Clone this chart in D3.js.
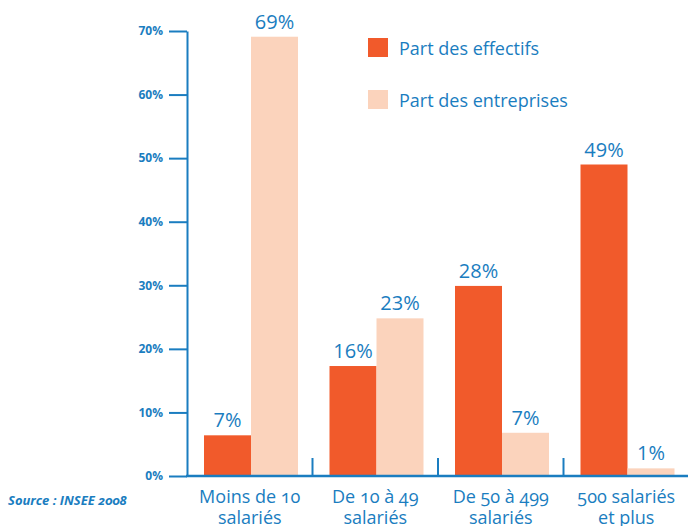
<!DOCTYPE html>
<html>
<head>
<meta charset="utf-8">
<script src="https://cdn.jsdelivr.net/npm/d3@7"></script>
<style>
  body { margin: 0; background: #fff; }
  svg { display: block; font-family: "Open Sans", "Noto Sans", sans-serif; }
  .onum { font-variant-numeric: oldstyle-nums; }
</style>
</head>
<body>
<svg id="chart" width="688" height="526"></svg>
<script>
// categories (two lines each), series and values
var categories = [["Moins de 10", "salariés"], ["De 10 à 49", "salariés"], ["De 50 à 499", "salariés"], ["500 salariés", "et plus"]];
var series = ["Part des effectifs", "Part des entreprises"];
var effectifs = [6.4, 17.3, 29.9, 49.0];
var entreprises = [69.1, 24.8, 6.8, 1.2];
var effectifsLabels = ["7%", "16%", "28%", "49%"];
var entreprisesLabels = ["69%", "23%", "7%", "1%"];
var yTicks = [0, 10, 20, 30, 40, 50, 60, 70];
var colors = ["#f15a2b", "#fbd3bc"];
var blue = "#1a7dc0";

var svg = d3.select("#chart");

var x0 = d3.scaleBand()
    .domain(d3.range(categories.length))
    .range([187, 689])
    .padding(0);

var x1 = d3.scaleBand()
    .domain(series)
    .range([17, 111]);

var y = d3.scaleLinear()
    .domain([0, 70])
    .range([476, 31]);

// rows built from the arrays
var rows = categories.map(function(c, i) {
    return [
        {s: series[0], v: effectifs[i], label: effectifsLabels[i], color: colors[0]},
        {s: series[1], v: entreprises[i], label: entreprisesLabels[i], color: colors[1]}
    ];
});

var groups = svg.selectAll("g.cat")
    .data(rows)
    .enter().append("g")
    .attr("class", "cat")
    .attr("transform", (d, i) => "translate(" + x0(i) + ",0)");

groups.selectAll("rect")
    .data(d => d)
    .enter().append("rect")
    .attr("x", d => x1(d.s))
    .attr("width", x1.bandwidth())
    .attr("y", d => y(d.v))
    .attr("height", d => y(0) - y(d.v))
    .attr("fill", d => d.color);

groups.selectAll("text.val")
    .data(d => d)
    .enter().append("text")
    .attr("class", "val")
    .attr("x", d => x1(d.s) + x1.bandwidth() / 2)
    .attr("y", d => y(d.v) - 8)
    .attr("text-anchor", "middle")
    .attr("font-size", 20)
    .attr("fill", blue)
    .text(d => d.label);

// y axis
var yAxis = d3.axisLeft(y)
    .tickValues(yTicks)
    .tickSize(18)
    .tickSizeOuter(0)
    .tickPadding(6)
    .tickFormat(d => d + "%");

var gy = svg.append("g")
    .attr("transform", "translate(187,0)")
    .call(yAxis);
gy.select(".domain").attr("stroke", blue).attr("stroke-width", 2);
gy.selectAll(".tick line").attr("stroke", blue).attr("stroke-width", 2);
gy.selectAll(".tick text")
    .attr("fill", blue)
    .attr("font-size", 12)
    .attr("font-weight", "bold")
    .attr("font-family", "'Open Sans', sans-serif");

// x axis line and separators
svg.append("line")
    .attr("x1", 186).attr("x2", 688)
    .attr("y1", y(0)).attr("y2", y(0))
    .attr("stroke", blue).attr("stroke-width", 2.5);

svg.selectAll("line.sep")
    .data(d3.range(1, categories.length))
    .enter().append("line")
    .attr("class", "sep")
    .attr("x1", d => x0(d)).attr("x2", d => x0(d))
    .attr("y1", y(0) - 18).attr("y2", y(0))
    .attr("stroke", blue).attr("stroke-width", 2);

// category labels
var catText = svg.selectAll("text.catlab")
    .data(categories)
    .enter().append("text")
    .attr("class", "catlab onum")
    .attr("text-anchor", "middle")
    .attr("font-size", 18)
    .attr("fill", blue);
catText.selectAll("tspan")
    .data((d, i) => d.map(t => ({t: t, i: i})))
    .enter().append("tspan")
    .attr("x", d => x0(d.i) + x0.bandwidth() / 2)
    .attr("y", (d, j) => 503 + j * 21)
    .text(d => d.t);

// legend
var legend = svg.selectAll("g.leg")
    .data(series)
    .enter().append("g")
    .attr("class", "leg")
    .attr("transform", (d, i) => "translate(368," + (38 + i * 52) + ")");
legend.append("rect")
    .attr("width", 20).attr("height", 19)
    .attr("fill", (d, i) => colors[i]);
legend.append("text")
    .attr("x", 31).attr("y", 17)
    .attr("font-size", 18)
    .attr("fill", blue)
    .text(d => d);

// source
svg.append("text")
    .attr("class", "onum")
    .attr("x", 8).attr("y", 505)
    .attr("font-size", 13)
    .attr("font-weight", "bold")
    .attr("font-style", "italic")
    .attr("fill", blue)
    .text("Source : INSEE 2008");
</script>
</body>
</html>
